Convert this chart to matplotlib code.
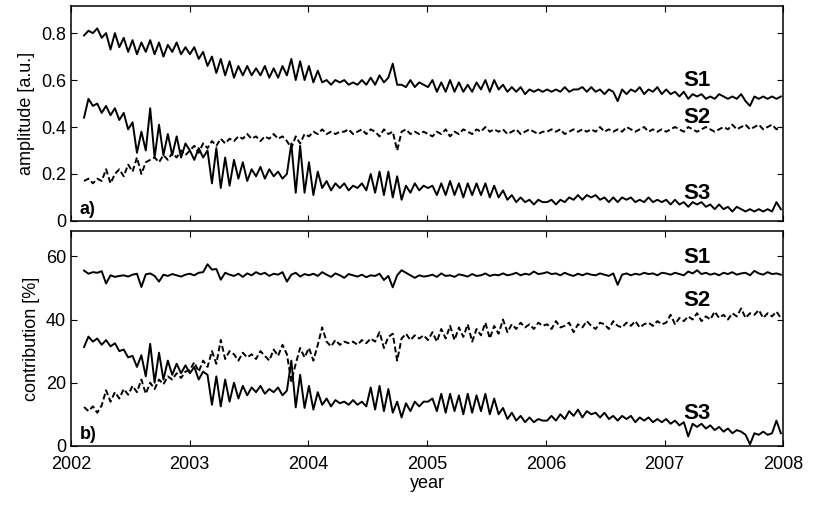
import numpy as np
import matplotlib
matplotlib.use('Agg')
import matplotlib.pyplot as plt

plt.rcParams['font.family'] = ['Liberation Sans', 'DejaVu Sans']

# values, about one point every half solar rotation
# panel a) amplitude [a.u.]
amp_s1 = [
    0.79, 0.81, 0.80, 0.82, 0.78, 0.80, 0.73, 0.80, 0.74, 0.78, 0.72, 0.77, 0.71, 0.76, 0.72, 0.77, 0.71, 0.76, 0.70, 0.75, 0.72, 0.76, 0.71, 0.74,
    0.71, 0.74, 0.69, 0.72, 0.66, 0.70, 0.63, 0.69, 0.62, 0.68, 0.61, 0.66, 0.62, 0.66, 0.62, 0.65, 0.62, 0.66, 0.61, 0.65, 0.61, 0.66, 0.62, 0.69, 0.60, 0.68, 0.60,
    0.66, 0.59, 0.64, 0.59, 0.60, 0.58, 0.60, 0.59, 0.60, 0.58, 0.59, 0.58, 0.60, 0.58, 0.61, 0.58, 0.62, 0.59, 0.61, 0.67, 0.58, 0.58, 0.57, 0.60, 0.57, 0.59, 0.58,
    0.57, 0.60, 0.55, 0.59, 0.55, 0.60, 0.55, 0.59, 0.55, 0.58, 0.55, 0.59, 0.56, 0.60, 0.55, 0.60, 0.56, 0.58, 0.55, 0.57, 0.55, 0.57, 0.54, 0.56, 0.55, 0.56, 0.55,
    0.56, 0.55, 0.56, 0.55, 0.57, 0.55, 0.56, 0.56, 0.57, 0.55, 0.57, 0.55, 0.56, 0.54, 0.56, 0.55, 0.51, 0.56, 0.54, 0.56, 0.55, 0.57, 0.54, 0.56, 0.55, 0.57, 0.54,
    0.56, 0.54, 0.55, 0.53, 0.55, 0.52, 0.54, 0.53, 0.54, 0.52, 0.53, 0.52, 0.54, 0.53, 0.52, 0.53, 0.52, 0.54, 0.51, 0.49, 0.53, 0.52, 0.53, 0.52, 0.53, 0.52, 0.53,
]
amp_s2 = [
    0.17, 0.18, 0.16, 0.18, 0.17, 0.22, 0.16, 0.20, 0.22, 0.19, 0.24, 0.21, 0.27, 0.20, 0.25, 0.26, 0.27, 0.25, 0.28, 0.26, 0.29, 0.27, 0.30, 0.28,
    0.30, 0.32, 0.29, 0.33, 0.31, 0.34, 0.32, 0.35, 0.33, 0.35, 0.34, 0.36, 0.35, 0.37, 0.35, 0.36, 0.34, 0.36, 0.35, 0.37, 0.35, 0.36, 0.34, 0.31, 0.36, 0.33, 0.37,
    0.36, 0.38, 0.37, 0.39, 0.37, 0.38, 0.37, 0.38, 0.38, 0.39, 0.37, 0.38, 0.39, 0.37, 0.39, 0.38, 0.36, 0.39, 0.37, 0.38, 0.30, 0.38, 0.39, 0.37, 0.38, 0.37, 0.38,
    0.37, 0.36, 0.38, 0.37, 0.39, 0.36, 0.38, 0.37, 0.39, 0.38, 0.37, 0.39, 0.38, 0.40, 0.38, 0.39, 0.38, 0.39, 0.37, 0.38, 0.39, 0.37, 0.38, 0.39, 0.38, 0.37, 0.38,
    0.38, 0.39, 0.38, 0.39, 0.37, 0.38, 0.39, 0.38, 0.39, 0.38, 0.39, 0.38, 0.40, 0.38, 0.39, 0.38, 0.39, 0.38, 0.40, 0.39, 0.38, 0.39, 0.40, 0.38, 0.39, 0.38, 0.39,
    0.38, 0.39, 0.40, 0.39, 0.38, 0.40, 0.39, 0.38, 0.39, 0.40, 0.39, 0.38, 0.39, 0.40, 0.39, 0.41, 0.39, 0.40, 0.41, 0.39, 0.40, 0.41, 0.39, 0.40, 0.41, 0.39, 0.40,
]
amp_s3 = [
    0.44, 0.52, 0.49, 0.50, 0.46, 0.49, 0.45, 0.48, 0.43, 0.46, 0.39, 0.42, 0.29, 0.38, 0.30, 0.48, 0.27, 0.41, 0.28, 0.37, 0.28, 0.36, 0.27, 0.33,
    0.30, 0.26, 0.31, 0.27, 0.30, 0.16, 0.31, 0.14, 0.27, 0.15, 0.26, 0.18, 0.25, 0.17, 0.22, 0.19, 0.23, 0.18, 0.22, 0.19, 0.21, 0.18, 0.20, 0.33, 0.12, 0.32, 0.12,
    0.25, 0.11, 0.21, 0.14, 0.17, 0.13, 0.16, 0.14, 0.16, 0.13, 0.15, 0.14, 0.16, 0.13, 0.20, 0.12, 0.21, 0.11, 0.21, 0.10, 0.19, 0.09, 0.15, 0.12, 0.16, 0.13, 0.15,
    0.14, 0.15, 0.11, 0.16, 0.11, 0.17, 0.11, 0.16, 0.10, 0.16, 0.11, 0.16, 0.11, 0.16, 0.10, 0.15, 0.10, 0.13, 0.09, 0.11, 0.08, 0.10, 0.08, 0.09, 0.07, 0.09, 0.08,
    0.08, 0.09, 0.07, 0.09, 0.08, 0.10, 0.09, 0.11, 0.09, 0.11, 0.10, 0.11, 0.09, 0.10, 0.08, 0.10, 0.08, 0.10, 0.09, 0.10, 0.08, 0.09, 0.08, 0.10, 0.08, 0.09, 0.08,
    0.09, 0.07, 0.09, 0.07, 0.08, 0.06, 0.08, 0.07, 0.08, 0.06, 0.07, 0.05, 0.07, 0.05, 0.06, 0.04, 0.06, 0.05, 0.04, 0.05, 0.04, 0.05, 0.04, 0.05, 0.04, 0.08, 0.05,
]

# panel b) contribution [%]
con_s1 = [
    55.5, 54.5, 55.0, 54.8, 55.3, 51.4, 54.0, 53.5, 53.8, 54.0, 53.6, 54.2, 54.5, 50.3, 54.3, 54.6, 53.8, 52.0, 54.2, 53.8, 54.4, 54.0, 53.6, 54.2,
    54.5, 54.0, 54.8, 55.0, 57.5, 55.8, 56.0, 52.6, 54.8, 54.2, 53.8, 54.5, 53.5, 54.6, 54.0, 55.0, 54.3, 54.8, 53.8, 54.5, 54.2, 55.0, 52.0, 54.2, 54.8, 53.6, 54.4,
    54.0, 54.5, 53.8, 55.0, 54.2, 53.5, 54.6, 54.0, 53.2, 54.4, 54.0, 53.6, 54.2, 53.4, 54.0, 53.8, 54.5, 52.5, 53.8, 50.2, 54.0, 55.6, 54.8, 54.0, 53.2, 54.0, 53.6,
    53.8, 54.2, 53.5, 54.6, 53.8, 54.0, 53.5, 54.3, 54.0, 53.6, 54.4, 53.8, 54.0, 54.6, 53.8, 54.2, 54.0, 54.6, 54.0, 54.3, 54.8, 54.0, 54.5, 54.2, 55.2, 54.4, 54.6,
    55.0, 54.4, 54.6, 54.0, 54.8, 54.2, 53.8, 54.5, 54.0, 54.6, 54.2, 54.0, 54.6, 54.2, 53.8, 54.6, 51.0, 54.2, 54.6, 54.0, 54.5, 54.2, 54.8, 54.4, 54.6, 54.0, 54.8,
    54.6, 54.2, 54.8, 54.4, 54.0, 55.2, 54.6, 55.6, 54.4, 54.8, 54.2, 54.6, 54.0, 54.8, 54.4, 55.0, 54.2, 54.6, 54.8, 54.0, 55.4, 54.6, 54.2, 55.0, 54.4, 54.6, 54.2,
]
con_s2 = [
    12.3, 11.0, 12.5, 10.5, 12.8, 17.6, 14.0, 17.0, 15.0, 18.0, 16.2, 19.0, 17.0, 21.0, 16.5, 20.0, 18.0, 21.0, 19.5, 22.0, 21.0, 23.0, 21.5, 23.5,
    24.0, 26.5, 23.5, 27.0, 25.0, 30.0, 26.0, 33.5, 27.5, 30.0, 29.0, 27.0, 29.5, 28.0, 29.0, 27.5, 30.0, 28.5, 27.0, 30.5, 28.5, 32.0, 29.0, 20.5, 26.0, 31.0, 28.0,
    31.0, 27.0, 32.0, 37.5, 33.0, 31.5, 33.5, 32.0, 33.0, 32.5, 33.0, 32.0, 33.5, 32.5, 34.0, 33.0, 36.0, 31.0, 34.5, 35.5, 27.0, 34.0, 35.5, 33.5, 35.0, 34.0, 35.0,
    33.5, 36.0, 33.0, 37.0, 34.0, 38.0, 33.5, 37.5, 34.5, 38.5, 33.0, 37.0, 35.0, 39.0, 34.0, 38.0, 35.5, 40.0, 36.0, 38.5, 37.0, 39.0, 37.5, 38.5, 37.0, 39.0, 38.0,
    38.5, 37.0, 39.5, 37.5, 38.0, 39.0, 36.0, 38.5, 37.5, 39.5, 38.0, 37.0, 39.0, 38.5, 37.0, 39.5, 38.0, 37.5, 39.0, 38.0, 39.5, 37.5, 38.5, 39.0, 38.0, 39.5, 38.5,
    39.0, 41.5, 38.5, 40.5, 39.5, 41.0, 40.0, 42.0, 39.5, 41.0, 40.0, 42.5, 40.5, 41.5, 40.0, 42.0, 41.0, 43.5, 40.5, 42.0, 41.5, 43.0, 40.5, 42.0, 41.0, 42.5, 40.5,
]
con_s3 = [
    31.3, 34.6, 33.0, 34.0, 32.0, 33.5, 31.5, 32.5, 30.0, 30.5, 28.0, 28.5, 25.0, 28.7, 22.0, 32.3, 20.0, 29.5, 21.0, 27.0, 22.5, 26.0, 23.0, 25.5,
    23.0, 25.0, 21.0, 23.5, 22.5, 13.0, 22.0, 12.5, 21.0, 14.0, 20.0, 15.0, 19.0, 16.0, 18.5, 17.0, 19.0, 16.5, 18.0, 17.0, 18.5, 16.0, 17.5, 27.0, 12.2, 22.5, 12.0,
    19.0, 11.5, 17.0, 13.0, 15.0, 12.5, 14.5, 13.5, 14.0, 13.0, 14.5, 13.0, 14.0, 12.5, 18.5, 11.5, 19.0, 11.0, 18.0, 10.5, 14.0, 9.0, 13.5, 11.0, 14.0, 12.5, 14.0,
    14.0, 15.0, 11.0, 16.5, 10.5, 16.5, 11.0, 16.0, 10.0, 16.5, 10.5, 16.0, 11.0, 16.5, 10.0, 15.0, 10.0, 12.0, 8.5, 10.5, 8.0, 9.5, 7.5, 9.0, 7.5, 8.5, 8.0,
    8.0, 9.5, 8.0, 10.0, 8.5, 11.0, 9.5, 11.5, 9.0, 11.0, 10.0, 10.5, 9.0, 10.5, 8.5, 9.5, 8.0, 9.5, 8.5, 9.5, 7.5, 9.0, 8.0, 9.0, 7.5, 8.5, 7.5,
    8.5, 7.0, 8.0, 6.5, 7.5, 3.0, 7.0, 6.0, 7.0, 5.5, 6.5, 5.0, 6.0, 4.5, 5.5, 4.0, 5.0, 4.5, 3.5, 0.5, 4.0, 3.5, 4.5, 3.5, 4.0, 8.0, 4.0,
]

years = [2002, 2003, 2004, 2005, 2006, 2007, 2008]
amp_ticks = [0, 0.2, 0.4, 0.6, 0.8]
amp_labels = ['0', '0.2', '0.4', '0.6', '0.8']
con_ticks = [0, 20, 40, 60]
names = ['S1', 'S2', 'S3']
amp_name_y = [0.60, 0.44, 0.117]
con_name_y = [59.5, 46.1, 10.2]


def time_axis(vals):
    return np.linspace(2002.11, 2007.98, len(vals))


fig = plt.figure(figsize=(8.14, 5.09), dpi=100)
ax1 = fig.add_axes([0.0872, 0.566, 0.875, 0.422])
ax2 = fig.add_axes([0.0872, 0.124, 0.875, 0.422])

for ax, series, ticks in [(ax1, [amp_s1, amp_s2, amp_s3], amp_ticks),
                          (ax2, [con_s1, con_s2, con_s3], con_ticks)]:
    for k, vals in enumerate(series):
        if k == 1:
            ax.plot(time_axis(vals), vals, color='black', lw=1.4, dashes=(3, 1.5))
        else:
            ax.plot(time_axis(vals), vals, color='black', lw=1.4)
    ax.set_xlim(2002, 2008)
    ax.set_xticks(years)
    ax.set_yticks(ticks)
    ax.tick_params(direction='in', top=True, right=True, length=4, width=0.8, labelsize=13)
    for sp in ax.spines.values():
        sp.set_linewidth(1.1)

ax1.set_ylim(0, 0.915)
ax1.set_yticklabels(amp_labels)
ax1.set_xticklabels([])
ax1.set_ylabel('amplitude [a.u.]', fontsize=13)
ax1.text(0.012, 0.015, 'a)', transform=ax1.transAxes, fontsize=13, fontweight='bold', va='bottom')
for n, y in zip(names, amp_name_y):
    ax1.text(2007.27, y, n, fontsize=16, fontweight='bold', ha='center', va='center')

ax2.set_ylim(0, 68)
ax2.set_xticklabels([str(y) for y in years])
ax2.tick_params(axis='x', pad=7)
ax2.set_ylabel('contribution [%]', fontsize=13)
ax2.set_xlabel('year', fontsize=13, labelpad=2)
ax2.text(0.012, 0.015, 'b)', transform=ax2.transAxes, fontsize=13, fontweight='bold', va='bottom')
for n, y in zip(names, con_name_y):
    ax2.text(2007.27, y, n, fontsize=16, fontweight='bold', ha='center', va='center')

fig.savefig('out.png', dpi=100)
